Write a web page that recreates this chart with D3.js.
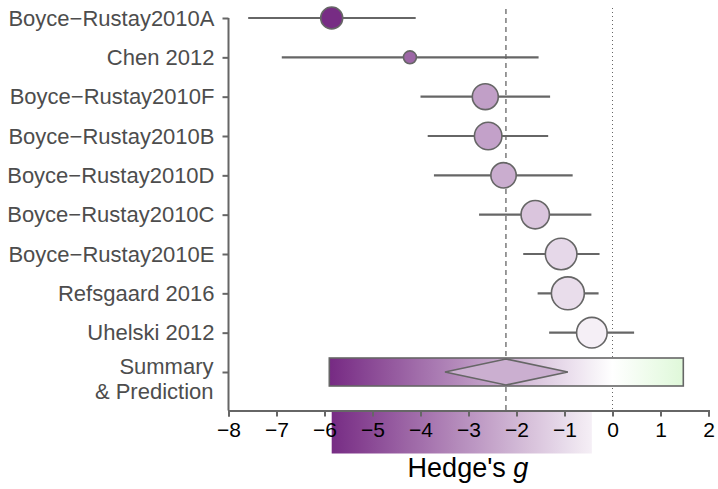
<!DOCTYPE html>
<html><head><meta charset="utf-8">
<script src="https://cdn.jsdelivr.net/npm/d3@7"></script>
<style>body{margin:0;background:#fff}svg{display:block}</style>
</head><body>
<svg id="chart" width="718" height="489"></svg>
<script>
const studies = ["Boyce\u2212Rustay2010A","Chen 2012","Boyce\u2212Rustay2010F","Boyce\u2212Rustay2010B","Boyce\u2212Rustay2010D","Boyce\u2212Rustay2010C","Boyce\u2212Rustay2010E","Refsgaard 2016","Uhelski 2012"];
const estimates = [-5.85,-4.22,-2.65,-2.59,-2.27,-1.61,-1.07,-0.93,-0.43];
const ciLower   = [-7.59,-6.89,-4.00,-3.85,-3.72,-2.78,-1.86,-1.56,-1.32];
const ciUpper   = [-4.10,-1.54,-1.30,-1.34,-0.83,-0.44,-0.27,-0.29,0.45];
const weights   = [121,42,169,190,161,201,250,272,234];
const summary = {est:-2.22, lower:-3.49, upper:-0.93, predLower:-5.9, predUpper:1.475};
const xTicks = [-8,-7,-6,-5,-4,-3,-2,-1,0,1,2];
const rowLabels = studies.concat(["Summary"]);

const svg = d3.select("#chart");
const x = d3.scaleLinear().domain([-8,2]).range([228.5,708.5]);
const y = d3.scalePoint().domain(rowLabels).range([18,372]);
const r = d3.scaleSqrt().domain([0,300]).range([0,17.3]);
const color = d3.scaleLinear().domain([-5.9,0,1.475]).range(["#762a83","#ffffff","#dff8d9"]);
const grey = "#666666";
const axisBottomY = 410.5;
const font = "Liberation Sans, Arial, Helvetica, sans-serif";

const defs = svg.append("defs");
function grad(id, x0v, x1v){
  const g = defs.append("linearGradient").attr("id",id).attr("gradientUnits","userSpaceOnUse")
    .attr("x1",x(x0v)).attr("x2",x(x1v)).attr("y1",0).attr("y2",0);
  d3.range(0,1.0001,0.05).forEach(t=>{
    g.append("stop").attr("offset",t).attr("stop-color",color(x0v+(x1v-x0v)*t));
  });
}
grad("predGrad", summary.predLower, summary.predUpper);
const ptMin = d3.min(estimates), ptMax = d3.max(estimates);
grad("legGrad", ptMin, ptMax);

// reference lines
svg.append("line").attr("x1",x(summary.est)).attr("x2",x(summary.est)).attr("y1",9).attr("y2",axisBottomY)
  .attr("stroke",grey).attr("stroke-width",1.3).attr("stroke-dasharray","5,4");
svg.append("line").attr("x1",x(0)).attr("x2",x(0)).attr("y1",8).attr("y2",axisBottomY)
  .attr("stroke",grey).attr("stroke-width",1).attr("stroke-dasharray","1,3");

// CI lines
svg.append("g").selectAll("line").data(studies).join("line")
  .attr("x1",(d,i)=>x(ciLower[i])).attr("x2",(d,i)=>x(ciUpper[i]))
  .attr("y1",d=>y(d)).attr("y2",d=>y(d))
  .attr("stroke",grey).attr("stroke-width",2.2);

// points
svg.append("g").selectAll("circle").data(studies).join("circle")
  .attr("cx",(d,i)=>x(estimates[i])).attr("cy",d=>y(d))
  .attr("r",(d,i)=>r(weights[i]))
  .attr("fill",(d,i)=>color(estimates[i]))
  .attr("stroke",grey).attr("stroke-width",1.6);

// summary prediction rect and diamond
const sy = y("Summary");
svg.append("rect").attr("x",x(summary.predLower)).attr("y",sy-14)
  .attr("width",x(summary.predUpper)-x(summary.predLower)).attr("height",28)
  .attr("fill","url(#predGrad)").attr("stroke",grey).attr("stroke-width",1.6);
svg.append("path")
  .attr("d",`M${x(summary.lower)},${sy} L${x(summary.est)},${sy-13} L${x(summary.upper)},${sy} L${x(summary.est)},${sy+13} Z`)
  .attr("fill",color(summary.est)).attr("stroke",grey).attr("stroke-width",1.6);

// legend strip below axis
svg.append("rect").attr("x",x(ptMin)).attr("y",axisBottomY+1)
  .attr("width",x(ptMax)-x(ptMin)).attr("height",42).attr("fill","url(#legGrad)");

// x axis
const xa = svg.append("g").attr("transform",`translate(0,${axisBottomY})`)
  .call(d3.axisBottom(x).tickValues(xTicks).tickSize(6).tickPadding(6).tickFormat(d3.format("d")));
xa.select(".domain").attr("stroke",grey).attr("stroke-width",2);
xa.selectAll(".tick line").attr("stroke",grey).attr("stroke-width",2);
xa.selectAll(".tick text").attr("fill","#000").attr("font-size",21).attr("font-family",font);

// y axis
const ya = svg.append("g").attr("transform",`translate(${x(-8)},0)`)
  .call(d3.axisLeft(y).tickSize(6).tickPadding(8).tickFormat(d=>d));
ya.select(".domain").attr("d",`M0,${y(studies[0])}V${axisBottomY}`).attr("stroke",grey).attr("stroke-width",2);
ya.selectAll(".tick line").attr("stroke",grey).attr("stroke-width",2);
ya.selectAll(".tick text").attr("fill","#4d4d4d").attr("font-size",22).attr("font-family",font);
ya.selectAll(".tick text").filter(d=>d==="Summary").each(function(){
  const t = d3.select(this); t.text(null).attr("dy",null);
  t.append("tspan").attr("x",-15).attr("dy","0.08em").text("Summary");
  t.append("tspan").attr("x",-15).attr("dy","1.14em").text("& Prediction");
});

// x title
const title = svg.append("text").attr("x",468).attr("y",477).attr("text-anchor","middle")
  .attr("font-family",font).attr("font-size",27).attr("fill","#000");
title.append("tspan").text("Hedge's ");
title.append("tspan").attr("font-style","italic").text("g");
</script>
</body></html>
